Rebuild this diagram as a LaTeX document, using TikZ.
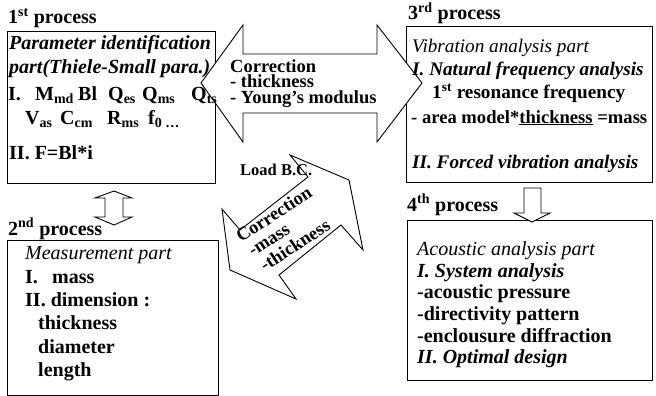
\documentclass[tikz,border=0pt]{standalone}
\usepackage{fontspec}
\setmainfont{Liberation Serif}
\usepackage{tikz}
\usetikzlibrary{positioning}

\begin{document}
\begin{tikzpicture}[
    x=1pt, y=-1pt,
    procbox/.style={rectangle, draw=black, line width=0.9pt, anchor=north west, inner sep=0pt},
    proctitle/.style={anchor=base west, inner sep=0pt, font=\fontsize{20}{20}\selectfont\bfseries},
    proctext/.style={anchor=base west, inner sep=0pt, font=\fontsize{20}{20}\selectfont\bfseries},
    vibtext/.style={proctext, font=\fontsize{19.2}{20}\selectfont\bfseries},
    corrtext/.style={anchor=base west, inner sep=0pt, font=\fontsize{18.5}{18.5}\selectfont\bfseries},
    blockarrow/.style={draw=black, line width=0.9pt, fill=white, line join=miter}
  ]
  \useasboundingbox (0,0) rectangle (656,396);

  % Process boxes
  \node[procbox, minimum width=208, minimum height=152] (proc1) at (7,31) {};
  \node[procbox, minimum width=211, minimum height=155] (proc2) at (7,240) {};
  \node[procbox, minimum width=246, minimum height=156] (proc3) at (406,26) {};
  \node[procbox, minimum width=245, minimum height=160] (proc4) at (407,220) {};

  % Block arrows
  \draw[blockarrow] (201,83) -- (243,25) -- (243,54) -- (377,54) -- (377,25) -- (422,83)
    -- (377,142) -- (377,113) -- (243,113) -- (243,142) -- cycle;
  \draw[blockarrow] (114,191) -- (132,198) -- (123,198) -- (123,217) -- (132,217) -- (114,225)
    -- (95,217) -- (105,217) -- (105,198) -- (95,198) -- cycle;
  \draw[blockarrow] (524,188) -- (541,188) -- (541,213) -- (550,213) -- (532,222)
    -- (514,213) -- (524,213) -- cycle;
  \draw[blockarrow] (290,155) -- (349,180) -- (363,250) -- (341,225) -- (279,275) -- (296,299)
    -- (230,270) -- (222,209) -- (240,230) -- (308,177) -- cycle;

  % Titles
  \node[proctitle] (title1) at (8,24) {1\textsuperscript{st} process};
  \node[proctitle] (title2) at (8,235) {2\textsuperscript{nd} process};
  \node[proctitle] (title3) at (408,20) {3\textsuperscript{rd} process};
  \node[proctitle] (title4) at (407,211) {4\textsuperscript{th} process};

  % 1st process
  \node[proctext] (ident1) at (9,49) {\itshape Parameter identification};
  \node[proctext] (ident2) at (9,74) {\itshape part(Thiele-Small para.)};
  \node[proctext] (ident3) at (8,100) {\makebox[27pt][l]{I.}\makebox[43pt][l]{M\textsubscript{md}}\makebox[30pt][l]{Bl}\makebox[34pt][l]{Q\textsubscript{es}}\makebox[49pt][l]{Q\textsubscript{ms}}Q\textsubscript{ts}};
  \node[proctext] (ident4) at (25,124) {\makebox[35pt][l]{V\textsubscript{as}}\makebox[47pt][l]{C\textsubscript{cm}}\makebox[41pt][l]{R\textsubscript{ms}}f\textsubscript{0 \dots}};
  \node[proctext] (ident5) at (9,159) {II. F=Bl*i};

  % 2nd process
  \node[proctext] (meas1) at (25,259) {\mdseries\itshape Measurement part};
  \node[proctext] (meas2) at (25,283) {\makebox[27pt][l]{I.}mass};
  \node[proctext] (meas3) at (25,306) {II. dimension :};
  \node[proctext] (meas4) at (38,329) {thickness};
  \node[proctext] (meas5) at (38,353) {diameter};
  \node[proctext] (meas6) at (38,376) {length};

  % 3rd process
  \node[vibtext] (vib1) at (412,53) {\mdseries\itshape Vibration analysis part};
  \node[vibtext] (vib2) at (412,75) {\itshape I. Natural frequency analysis};
  \node[vibtext] (vib3) at (432,99) {1\textsuperscript{st} resonance frequency};
  \node[vibtext, font=\fontsize{18.6}{20}\selectfont\bfseries] (vib4) at (411,123) {- area model*\underline{thickness} =mass};
  \node[vibtext] (vib5) at (412,168) {\itshape II. Forced vibration analysis};

  % 4th process
  \node[proctext] (acou1) at (417,255) {\mdseries\itshape Acoustic analysis part};
  \node[proctext] (acou2) at (417,277) {\itshape I. System analysis};
  \node[proctext] (acou3) at (417,298) {-acoustic pressure};
  \node[proctext] (acou4) at (417,320) {-directivity pattern};
  \node[proctext] (acou5) at (417,342) {-enclousure diffraction};
  \node[proctext] (acou6) at (417,363) {\itshape II. Optimal design};

  % Corrections
  \node[corrtext] (corr1) at (230,73) {Correction};
  \node[corrtext] (corr2) at (230,88) {- thickness};
  \node[corrtext] (corr3) at (230,103) {- Young's modulus};
  \node[corrtext, font=\fontsize{16.5}{16.5}\selectfont\bfseries] (load) at (240,175) {Load B.C.};
  \node[corrtext, rotate=33] (back1) at (241,243) {Correction};
  \node[corrtext, rotate=33] (back2) at (253,257) {-mass};
  \node[corrtext, rotate=33] (back3) at (265,272) {-thickness};
\end{tikzpicture}
\end{document}
